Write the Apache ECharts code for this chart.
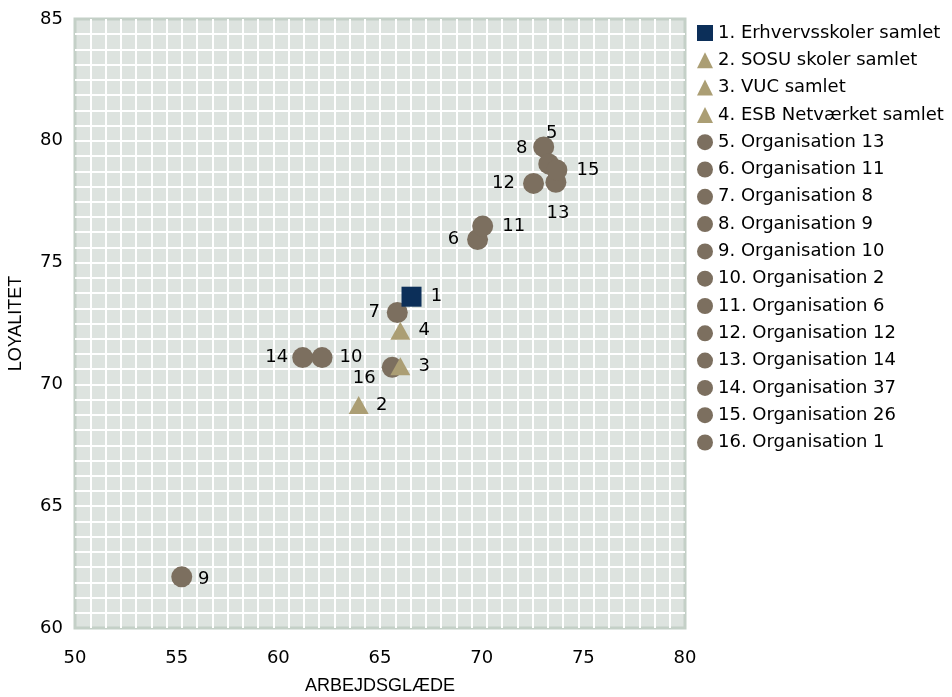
<!DOCTYPE html>
<html>
<head>
<meta charset="utf-8">
<script src="https://cdn.jsdelivr.net/npm/echarts@6/dist/echarts.min.js"></script>
<style>html,body{margin:0;padding:0;background:#fff;}#c{width:952px;height:697px;}</style>
</head>
<body>
<div id="c"></div>
<script>
// ---- data ----
const seriesNames = [
  '1. Erhvervsskoler samlet', '2. SOSU skoler samlet', '3. VUC samlet', '4. ESB Netværket samlet',
  '5. Organisation 13', '6. Organisation 11', '7. Organisation 8', '8. Organisation 9',
  '9. Organisation 10', '10. Organisation 2', '11. Organisation 6', '12. Organisation 12',
  '13. Organisation 14', '14. Organisation 37', '15. Organisation 26', '16. Organisation 1'
];
const pointLabels = ['1','2','3','4','5','6','7','8','9','10','11','12','13','14','15','16'];
const arbejdsglaede = [66.55, 63.95, 66.0, 66.0, 73.05, 69.8, 65.85, 73.3, 55.25, 62.15, 70.05, 72.55, 73.65, 61.2, 73.7, 65.6];
const loyalitet     = [73.6, 69.15, 70.75, 72.2, 79.75, 75.95, 72.95, 79.05, 62.1, 71.1, 76.5, 78.25, 78.3, 71.1, 78.8, 70.7];
const groupType = ['school','sosu','sosu','sosu','org','org','org','org','org','org','org','org','org','org','org','org'];
const xTicks = [50, 55, 60, 65, 70, 75, 80];
const yTicks = [60, 65, 70, 75, 80, 85];

// ---- styles ----
const typeStyle = {
  school: { symbol: 'rect', size: 20, color: '#0c2f59', z: 4 },
  sosu:   { symbol: 'triangle', size: [20, 18], color: '#ab9e74', z: 4 },
  org:    { symbol: 'circle', size: 21, color: '#7c6f5f', z: 3 }
};
const labelOffsets = [
  [25,0],[23,0],[24,0],[24,0],[8,-14],[-24,0],[-23,0],[-27,-16],
  [22,2],[29,0],[31,0],[-30,0],[2,31],[-26,0],[31,0],[-28,11]
];
const FONT = 'DejaVu Sans';

const series = seriesNames.map((name, i) => {
  const st = typeStyle[groupType[i]];
  return {
    name: name,
    type: 'scatter',
    xAxisIndex: 0, yAxisIndex: 0,
    z: st.z,
    symbol: st.symbol,
    symbolSize: st.size,
    itemStyle: { color: st.color, opacity: 1 },
    label: {
      show: true, position: 'inside', offset: labelOffsets[i],
      formatter: pointLabels[i], color: '#000', fontSize: 18, fontFamily: FONT
    },
    emphasis: { disabled: true },
    data: [[arbejdsglaede[i], loyalitet[i]]]
  };
});

const chart = echarts.init(document.getElementById('c'));
chart.setOption({
  animation: false,
  backgroundColor: '#fff',
  grid: {
    left: 75, right: 267, top: 19, bottom: 69,
    containLabel: false, outerBoundsMode: 'none',
    show: true, backgroundColor: '#dde3df', borderColor: '#c4d0c7', borderWidth: 3
  },
  legend: {
    orient: 'vertical', left: 697, top: 24, padding: 0,
    itemWidth: 16, itemHeight: 16, itemGap: 9.3,
    textStyle: { fontFamily: FONT, fontSize: 18, color: '#000', lineHeight: 18 },
    data: seriesNames.map((n, i) => ({ name: n, icon: typeStyle[groupType[i]].symbol }))
  },
  xAxis: [
    {
      type: 'value', min: xTicks[0], max: xTicks[xTicks.length-1], interval: 5,
      name: 'ARBEJDSGLÆDE', nameLocation: 'middle', nameGap: 49,
      nameTextStyle: { fontFamily: 'Liberation Sans', fontSize: 18, color: '#000' },
      axisLine: { show: false }, axisTick: { show: false }, splitLine: { show: false },
      axisLabel: { fontFamily: FONT, fontSize: 18, color: '#000', margin: 21 }
    },
    {
      type: 'value', min: 0, max: 40, interval: 1, show: true,
      axisLine: { show: false }, axisTick: { show: false }, axisLabel: { show: false },
      splitLine: { show: true, showMinLine: false, showMaxLine: false, lineStyle: { color: '#ffffff', width: 2 } }
    }
  ],
  yAxis: [
    {
      type: 'value', min: yTicks[0], max: yTicks[yTicks.length-1], interval: 5,
      name: 'LOYALITET', nameLocation: 'middle', nameGap: 50, nameRotate: 90,
      nameTextStyle: { fontFamily: 'Liberation Sans', fontSize: 18, color: '#000' },
      axisLine: { show: false }, axisTick: { show: false }, splitLine: { show: false },
      axisLabel: { fontFamily: FONT, fontSize: 18, color: '#000', margin: 12 }
    },
    {
      type: 'value', min: 0, max: 40, interval: 1, show: true,
      axisLine: { show: false }, axisTick: { show: false }, axisLabel: { show: false },
      splitLine: { show: true, showMinLine: false, showMaxLine: false, lineStyle: { color: '#ffffff', width: 2 } }
    }
  ],
  series: series
});
</script>
</body>
</html>
